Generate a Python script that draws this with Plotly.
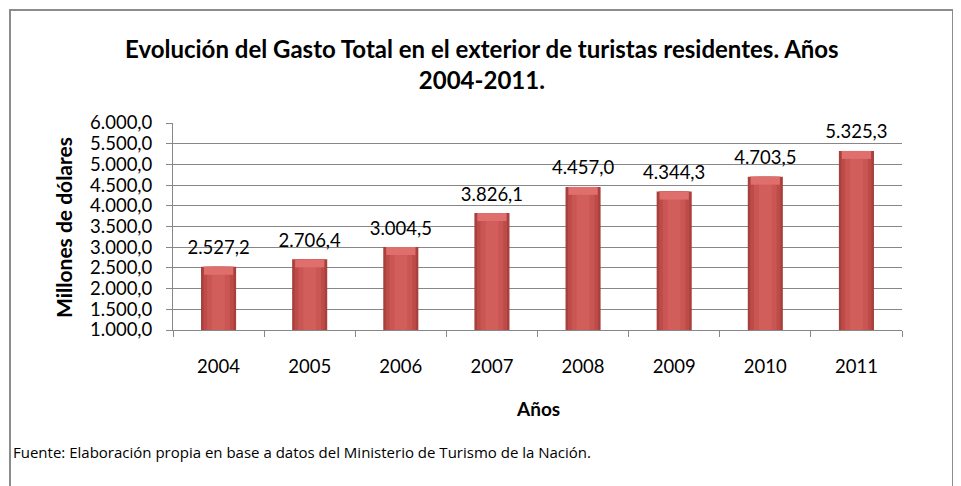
import plotly.graph_objects as go

years = ["2004", "2005", "2006", "2007", "2008", "2009", "2010", "2011"]
gasto = [2527.2, 2706.4, 3004.5, 3826.1, 4457.0, 4344.3, 4703.5, 5325.3]
y_ticks = [1000, 1500, 2000, 2500, 3000, 3500, 4000, 4500, 5000, 5500, 6000]

OFF = 8  # page body margin
W, H = 961 - OFF, 486 - OFF
# plot area in reference pixels: x 173..902, y 123..330
L, R, T, B = 173 - OFF, W - (902 - OFF), 123 - OFF, H - (330 - OFF)
pw, ph = W - L - R, H - T - B

def px(x):
    return (x - OFF - L) / pw

def py(y):
    return (H - B - (y - OFF)) / ph

FONT = "Lato, Open Sans, Liberation Sans, sans-serif"

def fmt(v):
    return f"{v:,.1f}".replace(",", "X").replace(".", ",").replace("X", ".")

fig = go.Figure()
layers = [(0.385, "#A8403D"), (0.33, "#BD4B48"), (0.25, "#CA5653"), (0.14, "#D25E5B")]
for w, c in layers:
    fig.add_trace(go.Bar(
        x=years, y=gasto, width=w, marker=dict(color=c, line=dict(width=0)),
        showlegend=False, hoverinfo="skip",
    ))

# lighter bevel at the top of each bar (about 8 px tall)
bevel = 8 * 5000 / 207
fig.add_trace(go.Bar(
    x=years, y=[bevel] * len(gasto), base=[g - bevel for g in gasto], width=0.32,
    marker=dict(color="#DE6F6C", line=dict(width=0)), showlegend=False, hoverinfo="skip",
))

# data labels
fig.add_trace(go.Scatter(
    x=years, y=gasto, mode="markers+text", text=[fmt(v) for v in gasto],
    textposition="top center", marker=dict(size=11, opacity=0),
    textfont=dict(family=FONT, size=18.5, color="#000"),
    cliponaxis=False, showlegend=False, hoverinfo="skip",
))

fig.update_layout(
    width=W, height=H, barmode="overlay", separators=",.",
    margin=dict(l=L, r=R, t=T, b=B, autoexpand=False),
    paper_bgcolor="white", plot_bgcolor="white",
    font=dict(family=FONT, size=18.5, color="#000"),
    xaxis=dict(
        type="category", showline=True, linecolor="#878787", linewidth=1,
        ticks="outside", ticklen=6, tickcolor="#878787", tickson="boundaries",
        tickfont=dict(size=18.5), ticklabelstandoff=20, showgrid=False,
    ),
    yaxis=dict(
        range=[1000, 6000], tickvals=y_ticks, tickformat=",.1f",
        showline=True, linecolor="#878787", linewidth=1,
        ticks="outside", ticklen=6, tickcolor="#878787",
        showgrid=True, gridcolor="#878787", gridwidth=1,
        tickfont=dict(size=18.5), ticklabelstandoff=10, zeroline=False,
    ),
    shapes=[dict(type="rect", xref="paper", yref="paper",
                 x0=px(10), x1=px(953), y0=py(500), y1=py(10),
                 line=dict(color="#8C8C8C", width=2), layer="below")],
    annotations=[
        dict(text="<b>Evolución del Gasto Total en el exterior de turistas residentes. Años<br>2004-2011.</b>",
             xref="paper", yref="paper", x=px(482), y=py(64), xanchor="center", yanchor="middle",
             showarrow=False, font=dict(size=24, family=FONT), align="center"),
        dict(text="<b>Millones de dólares</b>", xref="paper", yref="paper",
             x=px(63), y=py(228), textangle=-90, xanchor="center", yanchor="middle",
             showarrow=False, font=dict(size=21, family=FONT)),
        dict(text="<b>Años</b>", xref="paper", yref="paper",
             x=px(538), y=py(408), xanchor="center", yanchor="middle",
             showarrow=False, font=dict(size=19, family=FONT)),
        dict(text="Fuente: Elaboración propia en base a datos del Ministerio de Turismo de la Nación.",
             xref="paper", yref="paper", x=px(11), y=py(452), xanchor="left", yanchor="middle",
             showarrow=False, font=dict(size=15, family="Open Sans, sans-serif")),
    ],
)

fig.write_html("out.html")
